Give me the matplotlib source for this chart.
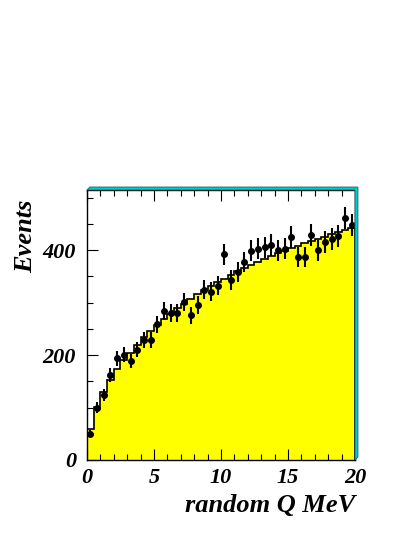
import numpy as np
import matplotlib.pyplot as plt
from matplotlib.patches import Polygon
from matplotlib.ticker import MultipleLocator

# bin edges / histogram / data
bin_edges = np.arange( 0, 20.01, 0.5 )
hist_counts = [ 59, 101, 130, 152, 173, 190, 205, 220, 234, 246,
                257, 268, 279, 289, 298, 307, 316, 324, 332, 339,
                346, 353, 360, 366, 372, 378, 384, 389, 394, 399,
                404, 409, 414, 418, 422, 426, 431, 435, 439, 443 ]
data_counts = [ 50, 100, 124, 162, 194, 201, 189, 210, 229, 229,
                259, 284, 280, 280, 301, 276, 296, 325, 321, 332,
                392, 343, 359, 378, 399, 403, 406, 410, 400, 403,
                425, 387, 387, 429, 400, 416, 422, 427, 462, 448 ]

FONT = dict( family='Liberation Serif', weight='bold', style='italic' )

fig = plt.figure( figsize=( 4.15, 5.37 ), dpi=100 )
ax = fig.add_axes( [ 0.2096, 0.1434, 0.6458, 0.5028 ] )

centers = 0.5 * ( bin_edges[ :-1 ] + bin_edges[ 1: ] )
ax.stairs( hist_counts, bin_edges, fill=True, color='#ffff00', zorder=1 )
ax.stairs( hist_counts, bin_edges, color='black', lw=1.2, zorder=2 )
ax.errorbar( centers, data_counts, yerr=np.sqrt( data_counts ), fmt='o',
             color='black', ms=4, elinewidth=1.5, capsize=0, zorder=3 )

ax.set_xlim( 0, 20 )
ax.set_ylim( 0, 515 )
ax.xaxis.set_major_locator( MultipleLocator( 5 ) )
ax.xaxis.set_minor_locator( MultipleLocator( 1 ) )
ax.yaxis.set_major_locator( MultipleLocator( 200 ) )
ax.yaxis.set_minor_locator( MultipleLocator( 50 ) )
ax.tick_params( which='both', direction='in', top=True, right=False, width=0.8 )
ax.tick_params( which='major', length=8 )
ax.tick_params( which='minor', length=4 )
ax.tick_params( axis='x', pad=6 )
ax.tick_params( axis='y', pad=8 )
for lab in ax.get_xticklabels() + ax.get_yticklabels():
    lab.set_fontproperties( 'Liberation Serif' )
    lab.set_fontweight( 'bold' )
    lab.set_fontstyle( 'italic' )
    lab.set_fontsize( 16 )
for s in ax.spines.values():
    s.set_linewidth( 1.0 )

ax.set_xlabel( 'random Q MeV', fontsize=19, loc='right', **FONT )
ax.set_ylabel( 'Events', fontsize=19, loc='top', **FONT )
ax.yaxis.set_label_coords( -0.185, 0.965 )

# ROOT style frame shadow
dx, dy = 0.011, 0.011
shadow = Polygon( [ ( 0, 1 ), ( dx, 1 + dy ), ( 1 + dx, 1 + dy ), ( 1 + dx, dy ), ( 1, 0 ), ( 1, 1 ) ],
                  closed=True, transform=ax.transAxes, facecolor='#00cccc',
                  edgecolor='#206060', lw=0.6, clip_on=False, zorder=5 )
ax.add_patch( shadow )

fig.savefig( 'out.png', dpi=100 )
